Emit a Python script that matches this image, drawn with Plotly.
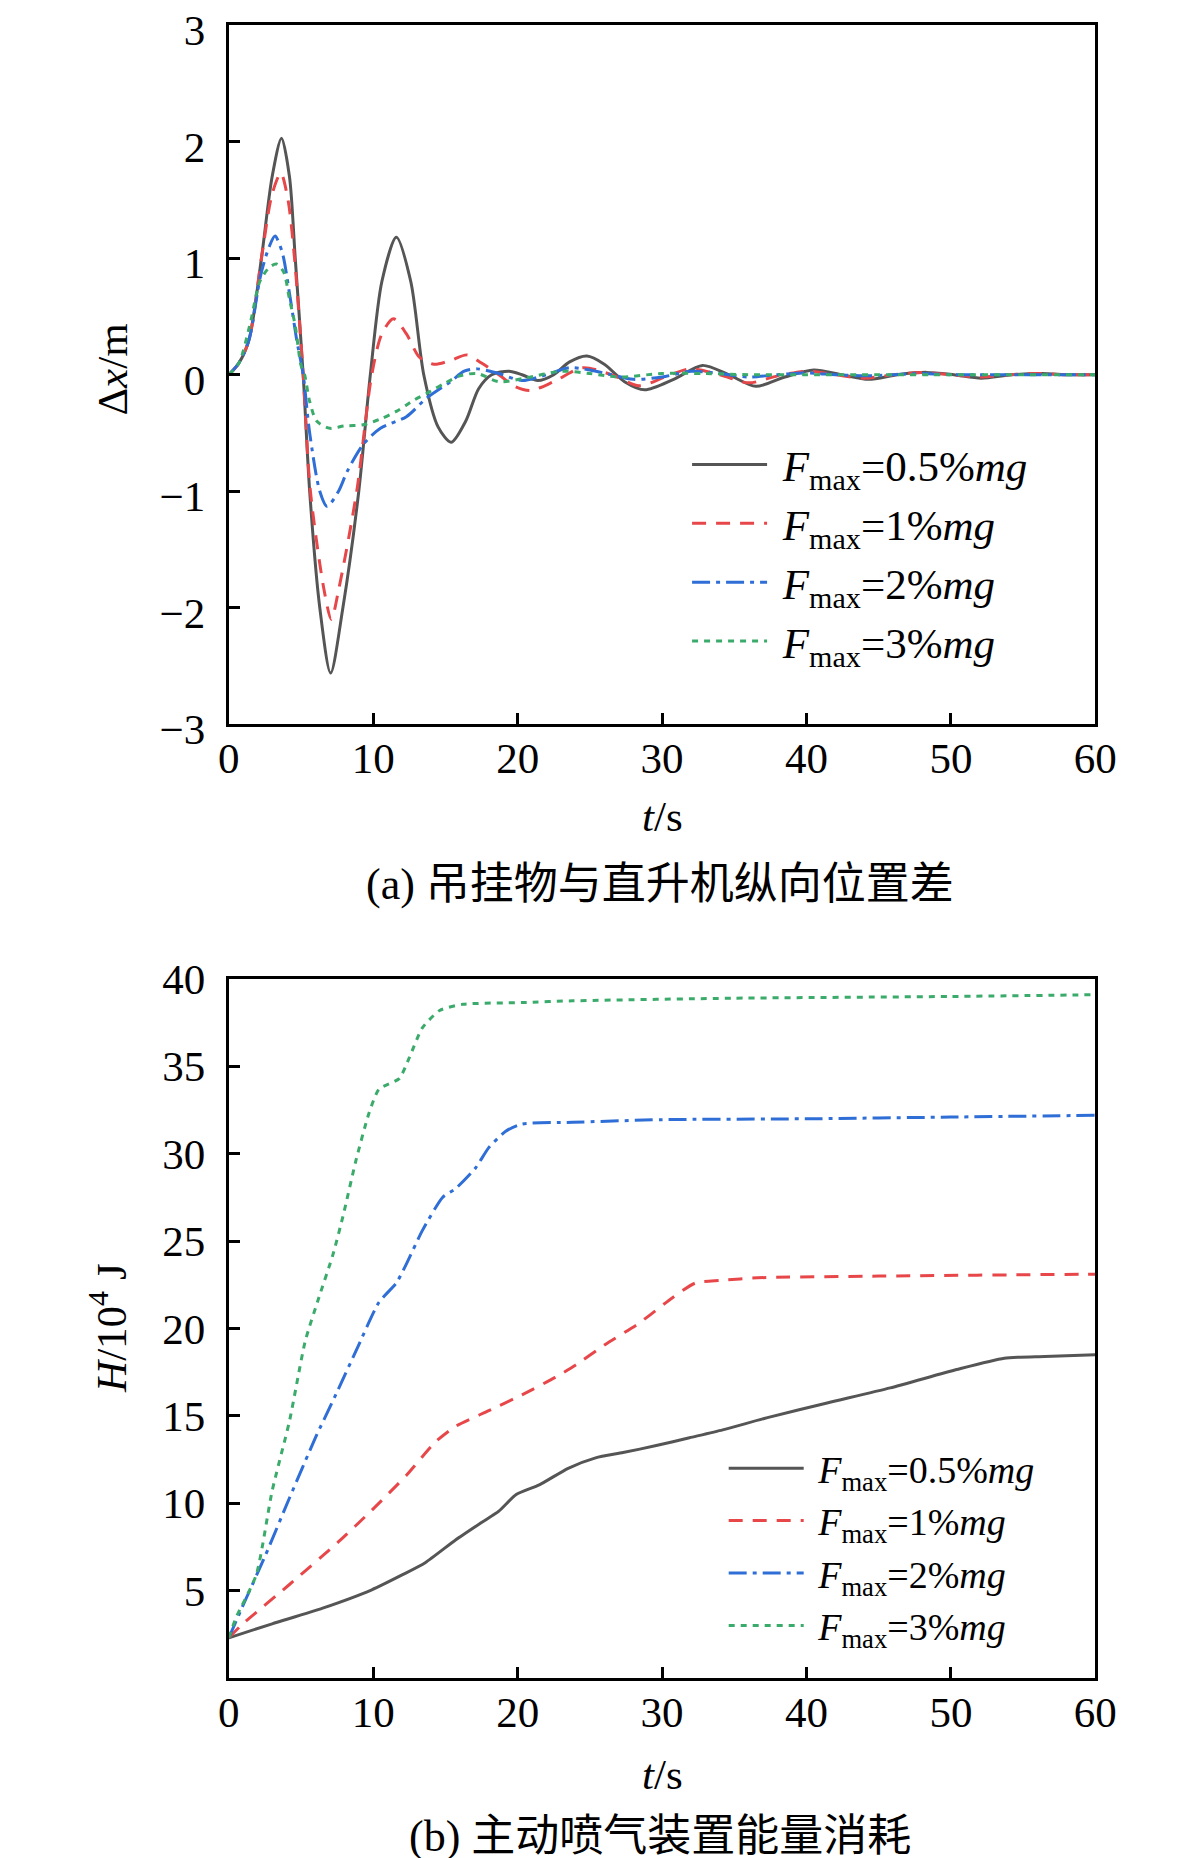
import plotly.graph_objects as go

# (a) longitudinal position difference, Delta x / m
t_a_05 = [0, 0.7, 1.4, 2.26, 3.0, 3.65, 4.2, 4.6, 5.15, 5.6, 6.3, 7.05, 7.9, 9.0, 9.8, 10.6, 11.6, 12.6, 13.5, 14.5,
          15.4, 16.4, 17.3, 18.2, 19.4, 20.3, 21.4, 22.5, 23.6, 24.8, 26.0, 27.4, 28.8, 30.8, 32.8, 34.6, 36.5, 38.5,
          40.5, 42.4, 44.3, 46.3, 48.3, 50.2, 52.1, 54.2, 56.3, 58.2, 60]
dx_05 = [0, 0.1, 0.3, 1.0, 1.7, 2.03, 1.7, 1.0, 0.0, -1.0, -2.0, -2.56, -2.0, -1.0, 0.0, 0.8, 1.18, 0.8, 0.0, -0.45,
         -0.58, -0.4, -0.12, 0.0, 0.03, 0.0, -0.05, 0.0, 0.11, 0.16, 0.09, -0.06, -0.13, -0.04, 0.08, 0.0, -0.1, -0.02,
         0.04, 0.0, -0.04, 0.0, 0.02, 0.0, -0.03, 0.0, 0.01, 0.0, 0.0]

t_a_1 = [0, 0.7, 1.4, 2.26, 3.0, 3.6, 4.1, 4.55, 5.15, 5.65, 6.6, 7.1, 7.6, 8.86, 9.9, 10.6, 11.4, 12.3, 13.2, 14.2,
         15.3, 16.5, 17.5, 18.7, 19.8, 20.9, 22.5, 24.5, 26.5, 28.4, 30.2, 31.9, 34.0, 36.0, 38.0, 40.0, 42.0, 44.0,
         46.0, 48.0, 50.0, 52.0, 54.0, 56.0, 58.0, 60]
dx_1 = [0, 0.1, 0.3, 1.0, 1.55, 1.73, 1.5, 1.0, 0.0, -1.0, -1.85, -2.1, -1.85, -1.0, 0.0, 0.35, 0.48, 0.35, 0.15, 0.09,
        0.12, 0.17, 0.1, 0.0, -0.1, -0.135, -0.06, 0.06, 0.0, -0.095, -0.02, 0.05, 0.0, -0.07, -0.01, 0.03, 0.0, -0.03,
        0.0, 0.02, 0.0, -0.02, 0.0, 0.01, 0.0, 0.0]

t_a_2 = [0, 0.7, 1.4, 2.2, 2.8, 3.2, 3.7, 4.2, 4.7, 5.15, 5.6, 6.3, 6.8, 7.6, 8.2, 9.3, 10.5, 12.3, 13.7, 15.35,
         16.3, 17.2, 18.7, 20.3, 22.0, 23.6, 25.0, 26.5, 28.0, 30.0, 32.0, 34.0, 36.0, 38.0, 40.0, 42.0, 44.0, 46.0,
         48.0, 50.0, 52.0, 56.0, 60]
dx_2 = [0, 0.1, 0.3, 0.85, 1.1, 1.19, 1.05, 0.7, 0.3, 0.0, -0.5, -1.0, -1.13, -1.0, -0.83, -0.6, -0.46, -0.36, -0.2,
        -0.06, 0.03, 0.05, 0.01, -0.05, 0.0, 0.06, 0.04, 0.0, -0.04, -0.02, 0.03, 0.01, -0.02, 0.0, 0.015, 0.0, -0.01,
        0.0, 0.01, 0.0, 0.0, 0.0, 0.0]

t_a_3 = [0, 0.7, 1.5, 2.15, 2.8, 3.3, 3.8, 4.2, 4.6, 5.0, 5.25, 5.6, 6.1, 7.0, 8.0, 9.3, 10.5, 11.6, 12.8, 14.0,
         15.0, 16.0, 17.2, 18.7, 20.5, 23.0, 25.0, 27.0, 30.0, 33.0, 36.0, 40.0, 45.0, 50.0, 55.0, 60]
dx_3 = [0, 0.1, 0.45, 0.8, 0.92, 0.95, 0.88, 0.65, 0.42, 0.08, 0.0, -0.23, -0.4, -0.46, -0.44, -0.43, -0.38, -0.315,
        -0.22, -0.14, -0.07, -0.01, 0.01, -0.06, -0.03, 0.03, 0.01, -0.02, 0.01, 0.01, 0.0, 0.0, 0.0, 0.0, 0.0, 0.0]

# (b) energy consumption, H / 10^4 J
t_h_05 = [0, 3, 6.5, 9.9, 12.0, 13.6, 15.7, 17.5, 18.7, 19.9, 21.5, 23.5, 25.4, 27.3, 29.6, 31.9, 34.2, 37.3, 41.5,
          45.8, 50.4, 53.7, 56.5, 60]
H_05 = [2.3, 3.1, 4.0, 5.05, 5.9, 6.6, 7.9, 8.9, 9.55, 10.5, 11.05, 12.0, 12.6, 12.9, 13.3, 13.75, 14.2, 14.9, 15.75,
        16.6, 17.65, 18.3, 18.4, 18.5]

t_h_1 = [0, 0.9, 4.2, 7.6, 9.9, 12.3, 14.3, 15.7, 18.0, 20.3, 22.6, 24.0, 26.1, 28.4, 30.7, 32.3, 34.0, 36.6, 45, 59, 60]
H_1 = [2.3, 3.05, 5.35, 7.8, 9.6, 11.6, 13.5, 14.4, 15.3, 16.2, 17.2, 17.9, 19.1, 20.3, 21.75, 22.6, 22.75, 22.9,
       23.0, 23.1, 23.1]

t_h_2 = [0, 0.9, 2.55, 4.2, 6.0, 7.4, 8.8, 10.4, 11.6, 12.3, 13.4, 14.8, 15.7, 17.1, 18.0, 19.2, 20.3, 23.8, 30, 40,
         50, 60]
H_2 = [2.3, 4.0, 7.05, 10.3, 13.75, 16.2, 18.7, 21.5, 22.6, 23.7, 25.6, 27.5, 28.0, 29.2, 30.35, 31.3, 31.7, 31.8,
       31.95, 32.0, 32.1, 32.2]

t_h_3 = [0, 0.5, 1.9, 3.0, 4.2, 5.3, 6.25, 7.2, 7.9, 8.8, 9.7, 10.4, 11.8, 12.5, 13.4, 14.6, 16.2, 20.3, 23.8, 35,
         50, 60]
H_3 = [2.3, 3.45, 5.9, 10.7, 14.7, 19.3, 21.8, 24.2, 26.4, 29.6, 32.3, 33.7, 34.3, 35.5, 37.2, 38.2, 38.55, 38.65,
       38.75, 38.9, 39.0, 39.1]

names = ["\u00a0<i>F</i><sub>max</sub>=0.5%<i>mg</i>", "\u00a0<i>F</i><sub>max</sub>=1%<i>mg</i>",
         "\u00a0<i>F</i><sub>max</sub>=2%<i>mg</i>", "\u00a0<i>F</i><sub>max</sub>=3%<i>mg</i>"]
colors = ["#555555", "#e8474a", "#2e6ed6", "#3bab6b"]
dashes = ["solid", "14px,10px", "18px,6px,4px,6px", "6px,6px"]

SERIF = "Liberation Serif, Times New Roman, serif"
CJK = "Liberation Serif, Noto Sans CJK SC, serif"

fig = go.Figure()

top = [(t_a_05, dx_05), (t_a_1, dx_1), (t_a_2, dx_2), (t_a_3, dx_3)]
for i, (t, v) in enumerate(top):
    fig.add_trace(go.Scatter(x=t, y=v, mode="lines", name=names[i], legend="legend",
                             xaxis="x", yaxis="y",
                             line=dict(color=colors[i], width=3, dash=dashes[i], shape="spline", smoothing=0.8)))

bottom = [(t_h_05, H_05), (t_h_1, H_1), (t_h_2, H_2), (t_h_3, H_3)]
for i, (t, v) in enumerate(bottom):
    fig.add_trace(go.Scatter(x=t, y=v, mode="lines", name=names[i], legend="legend2",
                             xaxis="x2", yaxis="y2",
                             line=dict(color=colors[i], width=3, dash=dashes[i], shape="spline", smoothing=0.6)))

axis_style = dict(showline=True, linecolor="black", linewidth=3, mirror=True,
                  ticks="inside", ticklen=11, tickwidth=3, tickcolor="black",
                  showgrid=False, zeroline=False, automargin=False, ticklabeloverflow="allow",
                  tickfont=dict(family=SERIF, size=43, color="black"))

xdom = [220.8 / 1181, 1087.3 / 1181]

fig.update_layout(
    width=1181, height=1858,
    margin=dict(l=0, r=0, t=0, b=0),
    paper_bgcolor="white", plot_bgcolor="white",
    xaxis=dict(domain=xdom, range=[0, 60], dtick=10, anchor="y", ticklabelstandoff=-6, **axis_style),
    yaxis=dict(domain=[0.61453, 0.99074], range=[-3, 3], dtick=1, anchor="x", ticklabelstandoff=12,
               ticklabelshift=5, **axis_style),
    xaxis2=dict(domain=xdom, range=[0, 60], dtick=10, anchor="y2", ticklabelstandoff=-6, **axis_style),
    yaxis2=dict(domain=[0.10118, 0.47740], range=[0, 40], tickvals=[5, 10, 15, 20, 25, 30, 35, 40],
                anchor="x2", ticklabelstandoff=12, **axis_style),
    legend=dict(x=0.575, y=0.7729, xanchor="left", yanchor="top", itemwidth=75,
                bgcolor="rgba(0,0,0,0)", font=dict(family=SERIF, size=43, color="black")),
    legend2=dict(x=0.606, y=0.2309, xanchor="left", yanchor="top", itemwidth=75,
                 bgcolor="rgba(0,0,0,0)", font=dict(family=SERIF, size=38, color="black")),
)

txt = dict(family=SERIF, size=43, color="black")
fig.add_annotation(text="Δ<i>x</i>/m", x=105 / 1181, y=0.8054, xref="paper", yref="paper",
                   textangle=-90, showarrow=False, font=txt, xanchor="center", yanchor="middle")
fig.add_annotation(text="<i>H</i>/10<sup>4</sup> J", x=100 / 1181, y=0.2896, xref="paper", yref="paper",
                   textangle=-90, showarrow=False, font=txt, xanchor="center", yanchor="middle")
fig.add_annotation(text="<i>t</i>/s", x=0.5538, y=0.5646, xref="paper", yref="paper",
                   showarrow=False, font=txt, xanchor="center", yanchor="middle")
fig.add_annotation(text="<i>t</i>/s", x=0.5538, y=0.04898, xref="paper", yref="paper",
                   showarrow=False, font=txt, xanchor="center", yanchor="middle")
fig.add_annotation(text="(a) 吊挂物与直升机纵向位置差", x=0.5521, y=0.5285, xref="paper", yref="paper",
                   showarrow=False, font=dict(family=CJK, size=44, color="black"),
                   xanchor="center", yanchor="middle")
fig.add_annotation(text="(b) 主动喷气装置能量消耗", x=0.5521, y=0.0016, xref="paper", yref="paper",
                   showarrow=False, font=dict(family=CJK, size=44, color="black"),
                   xanchor="center", yanchor="bottom")

fig.write_html("out.html")
